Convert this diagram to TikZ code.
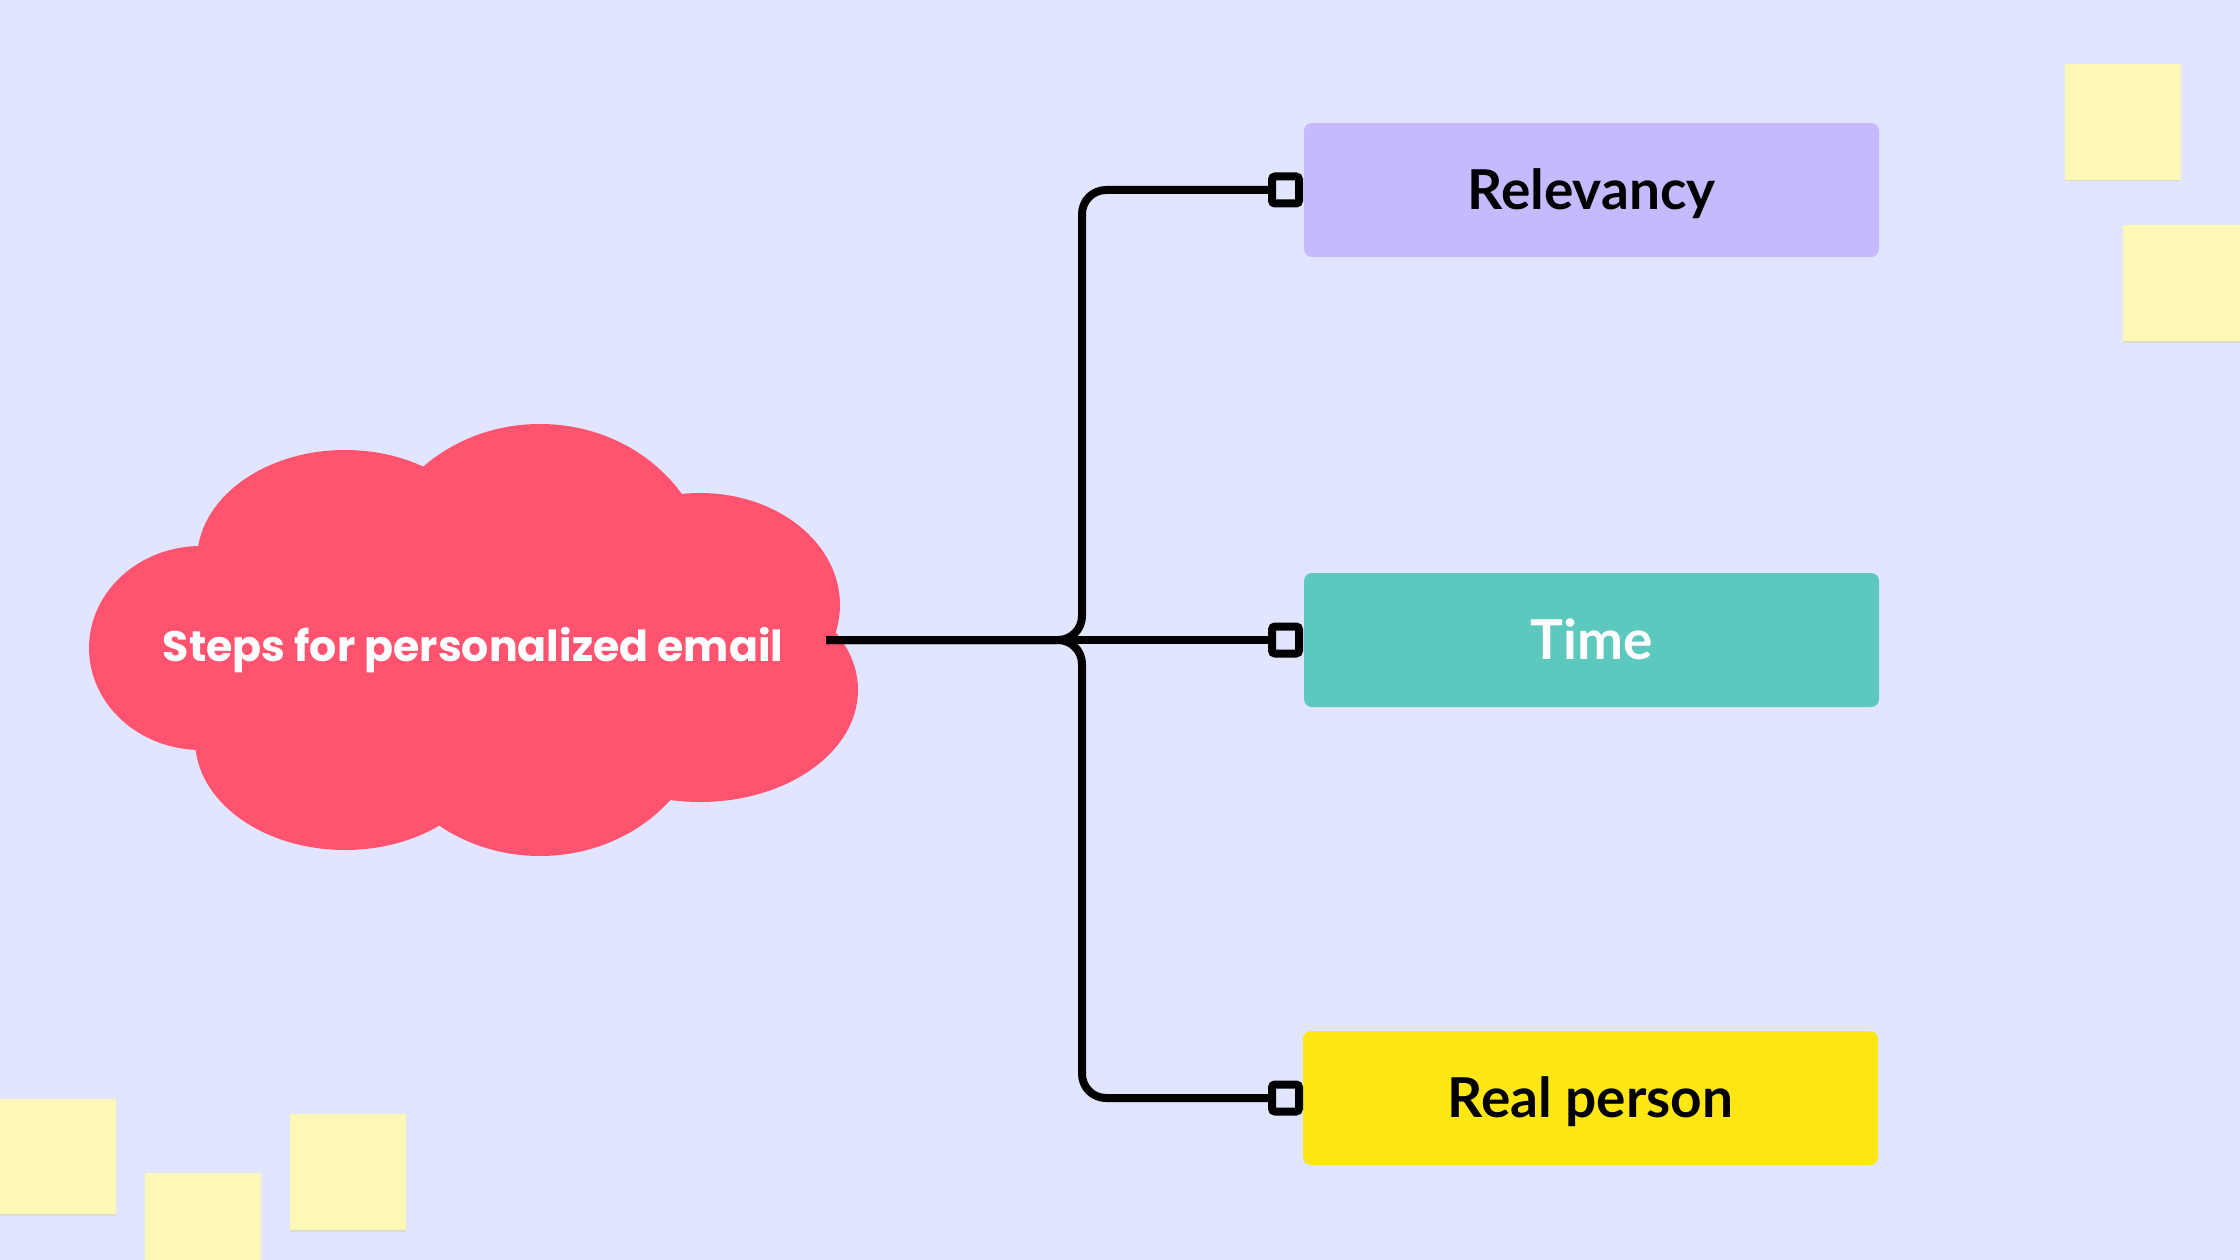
\documentclass[tikz,border=0pt]{standalone}
\usepackage{fontspec}
\setmainfont{Lato}
\newfontfamily\cloudfont{Poppins}
\definecolor{bg}{HTML}{E1E6FE}
\definecolor{cloudc}{HTML}{FF536F}
\definecolor{relvc}{HTML}{C6B9FE}
\definecolor{timec}{HTML}{5CC8BE}
\definecolor{realc}{HTML}{FFE713}
\definecolor{stickyc}{HTML}{FDF8B6}
\definecolor{stickysh}{HTML}{DCDCCC}
\begin{document}
\begin{tikzpicture}[x=1pt,y=-1pt,
  conn/.style={line width=8pt, line join=round, rounded corners=24pt},
  endsq/.style={draw, line width=8pt, fill=bg, minimum size=27pt, inner sep=0pt, rounded corners=3pt},
  topic/.style={rounded corners=8pt, minimum width=575pt, minimum height=134pt, inner sep=0pt,
    text height=38.5pt, text depth=0pt, font=\fontsize{55}{64}\selectfont\bfseries},
  sticky/.style={fill=stickyc}]
\useasboundingbox (0,0) rectangle (2240,1260);
\fill[bg] (0,0) rectangle (2240,1260);
% sticky notes
\foreach \xa/\ya/\xb/\yb in {2065/64/2181/180, 2123/225/2240/341, 0/1099/116/1214, 145/1173/261/1260, 290/1114/406/1230}{
  \fill[stickysh] (\xa,\yb-1) rectangle (\xb,\yb+1.5);
  \fill[sticky] (\xa,\ya) rectangle (\xb,\yb);
}
% cloud
\fill[cloudc] (345,560) ellipse [x radius=148, y radius=110]
  (201,648) ellipse [x radius=112, y radius=102]
  (345,740) ellipse [x radius=150, y radius=110]
  (540,580) ellipse [x radius=170, y radius=156]
  (540,700) ellipse [x radius=170, y radius=156]
  (700,605) ellipse [x radius=140, y radius=112]
  (700,690) ellipse [x radius=158, y radius=112]
  (470,645) ellipse [x radius=330, y radius=170];
\node[text=white, inner sep=0pt, text height=30pt, text depth=0pt,
  font=\cloudfont\fontsize{42.7}{50}\selectfont\bfseries] (cloud) at (473,646) {Steps for personalized email};
\coordinate (cloudR) at (826,640);
\coordinate (spine) at (1082,640);
% topic boxes
\node[topic, fill=relvc] (relv) at (1591.5,190) {Relevancy};
\node[topic, fill=timec, text=white] (time) at (1591.5,640) {Time};
\node[topic, fill=realc] (real) at (1590.5,1098) {Real person};
% end squares
\node[endsq] (sqA) at (1285.5,190) {};
\node[endsq] (sqB) at (1285.5,640) {};
\node[endsq] (sqC) at (1285.5,1098) {};
% connectors
\draw[conn] (cloudR) -| (spine |- sqA) -- (sqA.west);
\draw[conn] (cloudR) -| (spine |- sqC) -- (sqC.west);
\draw[conn] (cloudR) -- (sqB.west);
\end{tikzpicture}
\end{document}
